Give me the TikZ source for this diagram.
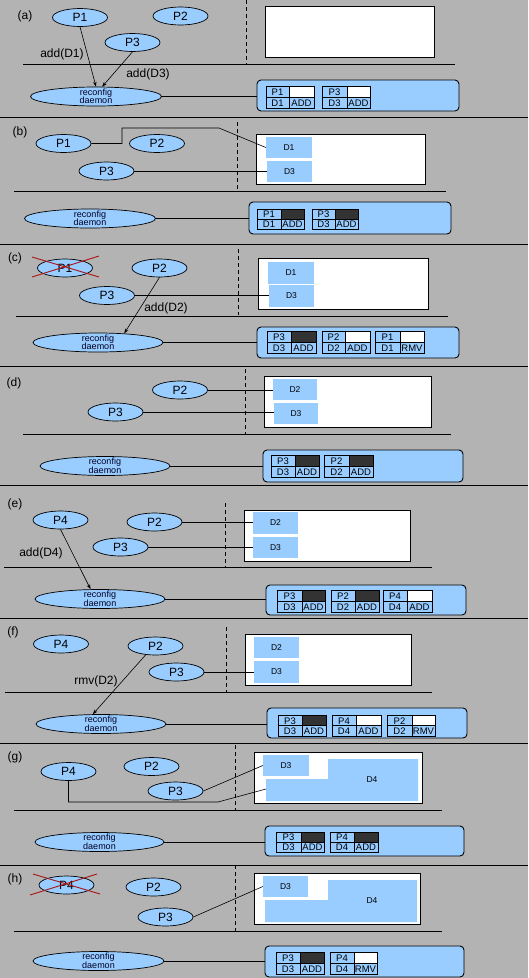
\documentclass[tikz,border=0pt]{standalone}
\usepackage{fontspec}
\setmainfont{Liberation Sans}
\usetikzlibrary{shapes.geometric,arrows.meta,calc}
\definecolor{bg}{RGB}{179,179,179}
\definecolor{lb}{RGB}{153,204,255}
\definecolor{dk}{RGB}{51,51,51}
\definecolor{xr}{RGB}{170,20,20}
\tikzset{
  pel/.style={ellipse,draw,fill=lb,line width=0.7pt,minimum width=55pt,minimum height=18pt,inner sep=0pt,font=\fontsize{12}{12}\selectfont},
  dmn/.style={ellipse,draw,fill=lb,line width=0.7pt,minimum width=131pt,minimum height=19pt,inner sep=0pt},
  dmtxt/.style={font=\fontsize{9}{8.5}\selectfont,align=center,inner sep=0pt,text=black!85!blue},
  dblk/.style={fill=lb,inner sep=0pt,font=\fontsize{8.5}{8.5}\selectfont},
  wbox/.style={draw,fill=white,line width=0.9pt},
  tbox/.style={draw,fill=lb,rounded corners=4pt,line width=0.9pt,inner sep=0pt},
  sepline/.style={line width=0.8pt},
  vdash/.style={line width=0.7pt,dash pattern=on 4pt off 3pt},
  conn/.style={line width=0.6pt},
  arr/.style={line width=0.6pt,-{Stealth[length=5pt,width=3.5pt]}},
  msg/.style={font=\fontsize{12}{12}\selectfont,inner sep=0pt},
  plab/.style={font=\fontsize{12}{12}\selectfont,inner sep=0pt},
  tfont/.style={font=\fontsize{9.5}{9.5}\selectfont,inner sep=0pt},
  xline/.style={draw=xr,line width=0.9pt}
}
\newcommand{\tgrp}[9]{%
  \pgfmathsetmacro{\tgym}{(#4+#5)/2}%
  \fill[lb] (#1,#4) rectangle (#3,#5);
  \fill[#9] (#2,#4) rectangle (#3,\tgym);
  \draw[line width=0.7pt] (#1,#4) rectangle (#3,#5) (#1,\tgym) -- (#3,\tgym) (#2,#4) -- (#2,#5);
  \node[tfont] at ({(#1+#2)/2},{(#4+\tgym)/2+0.5}) {#6};
  \node[tfont] at ({(#1+#2)/2},{(\tgym+#5)/2+0.5}) {#7};
  \node[tfont] at ({(#2+#3)/2},{(\tgym+#5)/2+0.5}) {#8};
}
\begin{document}
\begin{tikzpicture}[x=1pt,y=-1pt]
\useasboundingbox (0,0) rectangle (528,978);
\fill[bg] (0,0) rectangle (528,978);
% panel separators
\foreach \yy in {117,244,366,485,618,743,865} \draw[sepline] (0,\yy) -- (528,\yy);

% ================= (a)
\node[plab] (la) at (25,16) {(a)};
\draw[vdash] (246,0) -- (246,64);
\draw[sepline] (23,64) -- (455,64);
\path[wbox] (265,6) rectangle (434,57);
\node[pel] (p1a) at (80,17.5) {P1};
\node[pel] (p2a) at (180.5,16) {P2};
\node[pel] (p3a) at (132.5,42.5) {P3};
\node[dmn] (dma) at (96,96.5) {};
\node[dmtxt] at (dma) {reconfig\\daemon};
\node[tbox,minimum width=202pt,minimum height=31pt] (tba) at (358,95.5) {};
\draw[conn] (dma.east) -- (dma.east -| tba.west);
\tgrp{266}{289}{314}{86}{108}{P1}{D1}{ADD}{white}
\tgrp{322}{347}{370}{86}{108}{P3}{D3}{ADD}{white}
\draw[arr] (p1a.south) -- (dma.north);
\draw[arr] (p3a.south) -- (dma.58);
\node[msg] (ma1) at (62,54) {add(D1)};
\node[msg] (ma3) at (148,74) {add(D3)};

% ================= (b)
\node[plab] (lb) at (20,132) {(b)};
\draw[vdash] (237,122) -- (237,191);
\draw[sepline] (14,191) -- (446,191);
\path[wbox] (256,134) rectangle (425,184);
\node[dblk,minimum width=46pt,minimum height=21pt] (d1b) at (289,147.5) {D1};
\node[dblk,minimum width=45pt,minimum height=21pt] (d3b) at (289.5,171.5) {D3};
\node[pel] (p1b) at (63.5,143.5) {P1};
\node[pel] (p2b) at (157,143.5) {P2};
\node[pel] (p3b) at (106.5,171) {P3};
\draw[conn] (p1b.east) -- (122,143.5) -- (122,128) -- (219,128) -- (d1b.west);
\draw[conn] (p3b.east) -- (p3b.east -| d3b.west);
\node[dmn] (dmb) at (90,218.5) {};
\node[dmtxt] at (dmb) {reconfig\\daemon};
\node[tbox,minimum width=202pt,minimum height=32pt] (tbb) at (350,218) {};
\draw[conn] (dmb.east) -- (dmb.east -| tbb.west);
\tgrp{257}{281}{304}{209}{229}{P1}{D1}{ADD}{dk}
\tgrp{312}{335}{358}{209}{229}{P3}{D3}{ADD}{dk}

% ================= (c)
\node[plab] (lc) at (15,258) {(c)};
\draw[vdash] (238,249) -- (238,315);
\draw[sepline] (16,316) -- (448,316);
\path[wbox] (258,258) rectangle (428,309);
\node[dblk,minimum width=46pt,minimum height=22pt] (d1c) at (291,273) {D1};
\node[dblk,minimum width=45pt,minimum height=22pt] (d3c) at (291.5,296) {D3};
\node[pel] (p1c) at (65,268) {P1};
\draw[xline] (32,257) -- (99,277);
\draw[xline] (32,277) -- (99,256);
\node[pel] (p2c) at (159.5,268) {P2};
\node[pel] (p3c) at (107,295.5) {P3};
\draw[conn] (p3c.east) -- (p3c.east -| d3c.west);
\node[dmn,minimum width=130pt] (dmc) at (98,342.5) {};
\node[dmtxt] at (dmc) {reconfig\\daemon};
\draw[arr] (p2c.south) -- (dmc.19);
\node[msg] (mc2) at (166,308) {add(D2)};
\node[tbox,minimum width=202pt,minimum height=31pt] (tbc) at (358,342.5) {};
\draw[conn] (dmc.east) -- (dmc.east -| tbc.west);
\tgrp{267}{291}{316}{331}{353}{P3}{D3}{ADD}{dk}
\tgrp{322}{345}{370}{331}{353}{P2}{D2}{ADD}{white}
\tgrp{375}{400}{424}{331}{353}{P1}{D1}{RMV}{white}

% ================= (d)
\node[plab] (ld) at (14,383) {(d)};
\draw[vdash] (245,369) -- (245,434);
\draw[sepline] (23,434) -- (451,434);
\path[wbox] (264,376) rectangle (431,427);
\node[dblk,minimum width=44pt,minimum height=21pt] (d2d) at (295,389.5) {D2};
\node[dblk,minimum width=44pt,minimum height=21pt] (d3d) at (296,413.5) {D3};
\node[pel] (p2d) at (180,390) {P2};
\node[pel] (p3d) at (115.5,412) {P3};
\draw[conn] (p2d.east) -- (p2d.east -| d2d.west);
\draw[conn] (p3d.east) -- (p3d.east -| d3d.west);
\node[dmn,minimum width=130pt] (dmd) at (105,466) {};
\node[dmtxt] at (dmd) {reconfig\\daemon};
\node[tbox,minimum width=200pt,minimum height=32pt] (tbd) at (363,466) {};
\draw[conn] (dmd.east) -- (dmd.east -| tbd.west);
\tgrp{271}{295}{319}{455}{477}{P3}{D3}{ADD}{dk}
\tgrp{324}{349}{373}{455}{477}{P2}{D2}{ADD}{dk}

% ================= (e)
\node[plab] (le) at (15,504) {(e)};
\draw[vdash] (225,503) -- (225,567);
\draw[sepline] (4,567) -- (432,567);
\path[wbox] (244,510) rectangle (410,561);
\node[dblk,minimum width=45pt,minimum height=22pt] (d2e) at (275.5,523) {D2};
\node[dblk,minimum width=45pt,minimum height=21pt] (d3e) at (275.5,547.5) {D3};
\node[pel] (p4e) at (60.5,520) {P4};
\node[pel] (p2e) at (154.5,522) {P2};
\node[pel] (p3e) at (120.5,547) {P3};
\draw[conn] (p2e.east) -- (p2e.east -| d2e.west);
\draw[conn] (p3e.east) -- (p3e.east -| d3e.west);
\node[dmn,minimum width=130pt] (dme) at (100,599) {};
\node[dmtxt] at (dme) {reconfig\\daemon};
\draw[arr] (p4e.south) -- (dme.134);
\node[msg] (me4) at (41,553) {add(D4)};
\node[tbox,minimum width=200pt,minimum height=30pt] (tbe) at (366,600) {};
\draw[conn] (dme.east) -- (dme.east -| tbe.west);
\tgrp{277}{302}{325}{590}{612}{P3}{D3}{ADD}{dk}
\tgrp{331}{355}{379}{590}{612}{P2}{D2}{ADD}{dk}
\tgrp{383}{407}{432}{590}{612}{P4}{D4}{ADD}{white}

% ================= (f)
\node[plab] (lf) at (13,632) {(f)};
\draw[vdash] (226,627) -- (226,692);
\draw[sepline] (5,692) -- (432,692);
\path[wbox] (245,634) rectangle (411,685);
\node[dblk,minimum width=45pt,minimum height=21pt] (d2f) at (276.5,647.5) {D2};
\node[dblk,minimum width=45pt,minimum height=22pt] (d3f) at (276.5,672) {D3};
\node[pel] (p4f) at (61,644) {P4};
\node[pel] (p2f) at (155.5,646) {P2};
\node[pel] (p3f) at (176.5,672) {P3};
\draw[conn] (p3f.east) -- (p3f.east -| d3f.west);
\node[msg] (mf2) at (96,681) {rmv(D2)};
\node[dmn,minimum width=130pt] (dmf) at (101,724) {};
\node[dmtxt] at (dmf) {reconfig\\daemon};
\draw[arr] (p2f.222) -- (dmf.130);
\node[tbox,minimum width=200pt,minimum height=30pt] (tbf) at (367,723) {};
\draw[conn] (dmf.east) -- (dmf.east -| tbf.west);
\tgrp{278}{302}{326}{715}{736}{P3}{D3}{ADD}{dk}
\tgrp{332}{356}{381}{715}{736}{P4}{D4}{ADD}{white}
\tgrp{387}{412}{435}{715}{736}{P2}{D2}{RMV}{white}

% ================= (g)
\node[plab] (lg) at (15,757) {(g)};
\draw[vdash] (235,745) -- (235,810);
\draw[sepline] (14,810) -- (442,810);
\path[wbox] (254,752) rectangle (422,803);
\node[dblk,minimum width=46pt,minimum height=21pt] (d3g) at (286,765.5) {D3};
\fill[lb] (328,759) -- (418,759) -- (418,801) -- (266,801) -- (266,779) -- (328,779) -- cycle;
\node[dblk,fill=none] (d4g) at (372,780) {D4};
\coordinate (d4gin) at (266,789);
\node[pel] (p4g) at (68.5,771.5) {P4};
\node[pel] (p2g) at (151.5,766.5) {P2};
\node[pel] (p3g) at (175.5,791) {P3};
\draw[conn] (p3g.east) -- (d3g.west);
\draw[conn] (p4g.south) -- (68.5,802) -- (218,802) -- (d4gin);
\node[dmn,minimum width=129pt] (dmg) at (99.5,842) {};
\node[dmtxt] at (dmg) {reconfig\\daemon};
\node[tbox,minimum width=199pt,minimum height=30pt] (tbg) at (364.5,841) {};
\draw[conn] (dmg.east) -- (dmg.east -| tbg.west);
\tgrp{276}{301}{324}{832}{852}{P3}{D3}{ADD}{dk}
\tgrp{330}{354}{378}{832}{852}{P4}{D4}{ADD}{dk}

% ================= (h)
\node[plab] (lh) at (15,879) {(h)};
\draw[vdash] (235,865) -- (235,931);
\draw[sepline] (14,931) -- (442,931);
\path[wbox] (254,873) rectangle (420,924);
\node[dblk,minimum width=45pt,minimum height=21pt] (d3h) at (285.5,886.5) {D3};
\fill[lb] (328,880) -- (417,880) -- (417,922) -- (265,922) -- (265,900) -- (328,900) -- cycle;
\node[dblk,fill=none] (d4h) at (372,901) {D4};
\node[pel] (p4h) at (66.5,885) {P4};
\draw[xline] (33,874) -- (100,894);
\draw[xline] (30,895) -- (97,874);
\node[pel] (p2h) at (153.5,887) {P2};
\node[pel] (p3h) at (165.5,917) {P3};
\draw[conn] (p3h.east) -- (d3h.west);
\node[dmn] (dmh) at (98.5,961) {};
\node[dmtxt] at (dmh) {reconfig\\daemon};
\node[tbox,minimum width=199pt,minimum height=31pt] (tbh) at (364.5,961.5) {};
\draw[conn] (dmh.east) -- (dmh.east -| tbh.west);
\tgrp{276}{300}{324}{952}{974}{P3}{D3}{ADD}{dk}
\tgrp{330}{354}{377}{952}{974}{P4}{D4}{RMV}{white}
\end{tikzpicture}
\end{document}
